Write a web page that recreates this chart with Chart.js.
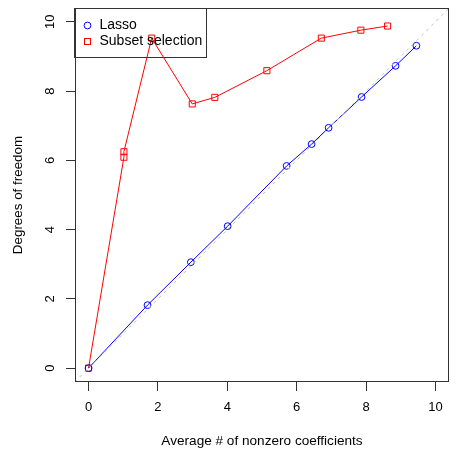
<!DOCTYPE html>
<html>
<head>
<meta charset="utf-8">
<script src="https://cdn.jsdelivr.net/npm/chart.js@4"></script>
<style>
  html, body { margin: 0; padding: 0; background: #fff; }
  #chart { display: block; }
</style>
</head>
<body>
<canvas id="chart" width="457" height="457"></canvas>
<script>
// values
const lassoX = [0, 1.70, 2.95, 4.01, 5.71, 6.43, 6.92, 7.87, 8.85, 9.45];
const lassoY = [0, 1.82, 3.06, 4.10, 5.84, 6.47, 6.94, 7.83, 8.73, 9.31];
const subsetX = [0, 1.02, 1.02, 1.82, 2.99, 3.64, 5.14, 6.71, 7.85, 8.62];
const subsetY = [0, 6.09, 6.25, 9.53, 7.63, 7.82, 8.59, 9.53, 9.76, 9.88];
const diagonal = [-0.4, 10.4]; // y = x reference line
const tickValues = [0, 2, 4, 6, 8, 10];
const seriesNames = ['Lasso', 'Subset selection'];

const FONT = '"Liberation Sans", Arial, sans-serif';
const AXIS = '#333';

function toPoints(xs, ys) {
    return xs.map((x, i) => ({ x: x, y: ys[i] }));
}

// box around the plot, rotated y tick labels and the legend, like base R
const boxAndLegend = {
    id: 'boxAndLegend',
    afterDraw(chart) {
        const ctx = chart.ctx;
        const a = chart.chartArea;
        ctx.save();
        ctx.strokeStyle = AXIS;
        ctx.lineWidth = 1;
        ctx.strokeRect(Math.round(a.left) + 0.5, Math.round(a.top) + 0.5,
            Math.round(a.right - a.left) - 1, Math.round(a.bottom - a.top) - 1);

        // y tick labels read bottom to top
        ctx.fillStyle = '#000';
        ctx.font = '13px ' + FONT;
        ctx.textAlign = 'center';
        ctx.textBaseline = 'middle';
        tickValues.forEach(v => {
            const y = chart.scales.y.getPixelForValue(v);
            ctx.save();
            ctx.translate(a.left - 25, y);
            ctx.rotate(-Math.PI / 2);
            ctx.fillText(String(v), 0, 0);
            ctx.restore();
        });

        // legend
        const lx = Math.round(a.left) - 0.5, ly = Math.round(a.top) + 0.5;
        ctx.strokeRect(lx, ly, 132, 49);
        ctx.font = '14px ' + FONT;
        ctx.textAlign = 'left';

        ctx.strokeStyle = '#0000ff';
        ctx.beginPath();
        ctx.arc(lx + 13, ly + 17, 3.4, 0, Math.PI * 2);
        ctx.stroke();
        ctx.fillText(seriesNames[0], lx + 25, ly + 17);

        ctx.strokeStyle = '#ff0000';
        ctx.strokeRect(lx + 10, ly + 30, 6, 6);
        ctx.fillText(seriesNames[1], lx + 25, ly + 33);
        ctx.restore();
    }
};

new Chart(document.getElementById('chart').getContext('2d'), {
    type: 'scatter',
    data: {
        datasets: [
            {
                label: 'y = x',
                data: toPoints(diagonal, diagonal),
                showLine: true,
                borderColor: '#bebebe',
                borderWidth: 1,
                borderDash: [3, 4],
                pointRadius: 0
            },
            {
                label: seriesNames[0],
                data: toPoints(lassoX, lassoY),
                showLine: true,
                borderColor: '#0000ff',
                borderWidth: 1,
                pointStyle: 'circle',
                pointRadius: 3.4,
                pointBorderColor: '#0000ff',
                pointBackgroundColor: 'rgba(0,0,0,0)',
                pointBorderWidth: 1
            },
            {
                label: seriesNames[1],
                data: toPoints(subsetX, subsetY),
                showLine: true,
                borderColor: '#ff0000',
                borderWidth: 1,
                pointStyle: 'rect',
                pointRadius: 4.3,
                pointBorderColor: '#ff0000',
                pointBackgroundColor: 'rgba(0,0,0,0)',
                pointBorderWidth: 1
            }
        ]
    },
    options: {
        responsive: false,
        animation: false,
        events: [],
        layout: { padding: { top: 8, right: 8, left: 0, bottom: 0 } },
        plugins: {
            legend: { display: false },
            tooltip: { enabled: false }
        },
        scales: {
            x: {
                type: 'linear',
                min: -0.39,
                max: 10.39,
                afterBuildTicks: s => { s.ticks = tickValues.map(v => ({ value: v })); },
                afterFit: s => { s.height = 75; },
                border: { display: false },
                grid: { drawOnChartArea: false, tickLength: 9, color: AXIS, tickColor: AXIS },
                ticks: { color: '#000', padding: 9, font: { family: FONT, size: 13 } },
                title: {
                    display: true,
                    text: 'Average # of nonzero coefficients',
                    color: '#000',
                    font: { family: FONT, size: 13.6 },
                    padding: { bottom: 8 }
                }
            },
            y: {
                type: 'linear',
                min: -0.4,
                max: 10.4,
                afterBuildTicks: s => { s.ticks = tickValues.map(v => ({ value: v })); },
                afterFit: s => { s.width = 75; },
                border: { display: false },
                grid: { drawOnChartArea: false, tickLength: 9, color: AXIS, tickColor: AXIS },
                ticks: { display: false },
                title: {
                    display: true,
                    text: 'Degrees of freedom',
                    color: '#000',
                    font: { family: FONT, size: 13.4 },
                    padding: { top: 10 }
                }
            }
        }
    },
    plugins: [boxAndLegend]
});
</script>
</body>
</html>
